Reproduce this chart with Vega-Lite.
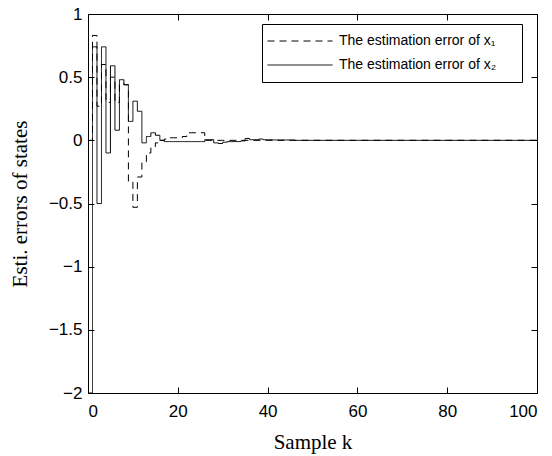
{
  "$schema": "https://vega.github.io/schema/vega-lite/v6.json",
  "width": 449,
  "height": 379,
  "autosize": {"type": "none"},
  "padding": {"left": 88, "top": 14, "right": 15, "bottom": 63},
  "background": "white",
  "config": {
    "view": {"stroke": "black", "strokeWidth": 1},
    "axis": {
      "grid": false,
      "domain": false,
      "ticks": true,
      "zindex": 1,
      "tickColor": "black",
      "tickWidth": 1,
      "tickSize": 6,
      "offset": -6,
      "labelFont": "Liberation Sans",
      "labelFontSize": 17,
      "labelColor": "black",
      "titleFont": "Liberation Serif",
      "titleFontSize": 21,
      "titleFontWeight": "normal",
      "titleColor": "black"
    }
  },
  "datasets": {
    "err": [
      {"k":0,"v":-2,"s":"The estimation error of x₂"},
      {"k":1,"v":0.74,"s":"The estimation error of x₂"},
      {"k":2,"v":-0.5,"s":"The estimation error of x₂"},
      {"k":3,"v":0.74,"s":"The estimation error of x₂"},
      {"k":4,"v":-0.1,"s":"The estimation error of x₂"},
      {"k":5,"v":0.59,"s":"The estimation error of x₂"},
      {"k":6,"v":0.08,"s":"The estimation error of x₂"},
      {"k":7,"v":0.48,"s":"The estimation error of x₂"},
      {"k":8,"v":0.44,"s":"The estimation error of x₂"},
      {"k":9,"v":0.15,"s":"The estimation error of x₂"},
      {"k":10,"v":0.31,"s":"The estimation error of x₂"},
      {"k":11,"v":0.23,"s":"The estimation error of x₂"},
      {"k":12,"v":-0.02,"s":"The estimation error of x₂"},
      {"k":13,"v":0.03,"s":"The estimation error of x₂"},
      {"k":14,"v":0.06,"s":"The estimation error of x₂"},
      {"k":15,"v":0.04,"s":"The estimation error of x₂"},
      {"k":16,"v":0.0,"s":"The estimation error of x₂"},
      {"k":17,"v":-0.01,"s":"The estimation error of x₂"},
      {"k":18,"v":-0.01,"s":"The estimation error of x₂"},
      {"k":19,"v":-0.01,"s":"The estimation error of x₂"},
      {"k":20,"v":-0.01,"s":"The estimation error of x₂"},
      {"k":21,"v":-0.01,"s":"The estimation error of x₂"},
      {"k":22,"v":-0.01,"s":"The estimation error of x₂"},
      {"k":23,"v":-0.01,"s":"The estimation error of x₂"},
      {"k":24,"v":-0.01,"s":"The estimation error of x₂"},
      {"k":25,"v":-0.01,"s":"The estimation error of x₂"},
      {"k":26,"v":0.005,"s":"The estimation error of x₂"},
      {"k":27,"v":0.005,"s":"The estimation error of x₂"},
      {"k":28,"v":-0.02,"s":"The estimation error of x₂"},
      {"k":29,"v":-0.025,"s":"The estimation error of x₂"},
      {"k":30,"v":-0.015,"s":"The estimation error of x₂"},
      {"k":31,"v":-0.01,"s":"The estimation error of x₂"},
      {"k":32,"v":-0.01,"s":"The estimation error of x₂"},
      {"k":33,"v":-0.01,"s":"The estimation error of x₂"},
      {"k":34,"v":-0.005,"s":"The estimation error of x₂"},
      {"k":35,"v":0.015,"s":"The estimation error of x₂"},
      {"k":36,"v":0.005,"s":"The estimation error of x₂"},
      {"k":37,"v":0.005,"s":"The estimation error of x₂"},
      {"k":38,"v":0.01,"s":"The estimation error of x₂"},
      {"k":39,"v":0.005,"s":"The estimation error of x₂"},
      {"k":40,"v":0.005,"s":"The estimation error of x₂"},
      {"k":41,"v":0.003,"s":"The estimation error of x₂"},
      {"k":42,"v":0.003,"s":"The estimation error of x₂"},
      {"k":43,"v":0.003,"s":"The estimation error of x₂"},
      {"k":44,"v":0.003,"s":"The estimation error of x₂"},
      {"k":45,"v":0.003,"s":"The estimation error of x₂"},
      {"k":46,"v":0,"s":"The estimation error of x₂"},
      {"k":50,"v":0,"s":"The estimation error of x₂"},
      {"k":60,"v":0,"s":"The estimation error of x₂"},
      {"k":70,"v":0,"s":"The estimation error of x₂"},
      {"k":80,"v":0,"s":"The estimation error of x₂"},
      {"k":90,"v":0,"s":"The estimation error of x₂"},
      {"k":100,"v":0,"s":"The estimation error of x₂"},
      {"k":0,"v":0,"s":"The estimation error of x₁"},
      {"k":1,"v":0.83,"s":"The estimation error of x₁"},
      {"k":2,"v":0.27,"s":"The estimation error of x₁"},
      {"k":3,"v":0.6,"s":"The estimation error of x₁"},
      {"k":4,"v":0.3,"s":"The estimation error of x₁"},
      {"k":5,"v":0.5,"s":"The estimation error of x₁"},
      {"k":6,"v":0.3,"s":"The estimation error of x₁"},
      {"k":7,"v":0.45,"s":"The estimation error of x₁"},
      {"k":8,"v":0.44,"s":"The estimation error of x₁"},
      {"k":9,"v":-0.33,"s":"The estimation error of x₁"},
      {"k":10,"v":-0.53,"s":"The estimation error of x₁"},
      {"k":11,"v":-0.29,"s":"The estimation error of x₁"},
      {"k":12,"v":-0.17,"s":"The estimation error of x₁"},
      {"k":13,"v":-0.1,"s":"The estimation error of x₁"},
      {"k":14,"v":-0.05,"s":"The estimation error of x₁"},
      {"k":15,"v":-0.02,"s":"The estimation error of x₁"},
      {"k":16,"v":0.0,"s":"The estimation error of x₁"},
      {"k":17,"v":0.01,"s":"The estimation error of x₁"},
      {"k":18,"v":0.02,"s":"The estimation error of x₁"},
      {"k":19,"v":0.02,"s":"The estimation error of x₁"},
      {"k":20,"v":0.02,"s":"The estimation error of x₁"},
      {"k":21,"v":0.03,"s":"The estimation error of x₁"},
      {"k":22,"v":0.06,"s":"The estimation error of x₁"},
      {"k":23,"v":0.06,"s":"The estimation error of x₁"},
      {"k":24,"v":0.06,"s":"The estimation error of x₁"},
      {"k":25,"v":0.06,"s":"The estimation error of x₁"},
      {"k":26,"v":0.0,"s":"The estimation error of x₁"},
      {"k":30,"v":0,"s":"The estimation error of x₁"},
      {"k":40,"v":0,"s":"The estimation error of x₁"},
      {"k":50,"v":0,"s":"The estimation error of x₁"},
      {"k":60,"v":0,"s":"The estimation error of x₁"},
      {"k":70,"v":0,"s":"The estimation error of x₁"},
      {"k":80,"v":0,"s":"The estimation error of x₁"},
      {"k":90,"v":0,"s":"The estimation error of x₁"},
      {"k":100,"v":0,"s":"The estimation error of x₁"}
    ]
  },
  "data": {"name": "err"},
  "resolve": {"axis": {"x": "independent", "y": "independent"}},
  "layer": [
    {
      "mark": {"type": "line", "interpolate": "step-after", "color": "black", "strokeWidth": 1, "clip": true},
      "encoding": {
        "x": {
          "field": "k", "type": "quantitative",
          "scale": {"domain": [0, 100], "nice": false, "zero": false},
          "axis": {"orient": "bottom", "values": [0, 20, 40, 60, 80, 100], "title": "Sample k", "labelPadding": 10, "titleY": 61, "titleBaseline": "alphabetic", "titleAnchor": "middle"}
        },
        "y": {
          "field": "v", "type": "quantitative",
          "scale": {"domain": [-2, 1], "nice": false, "zero": false},
          "axis": {"orient": "left", "values": [-2, -1.5, -1, -0.5, 0, 0.5, 1], "format": "~g", "title": "Esti. errors of states", "labelPadding": 6, "titleX": -68, "titleBaseline": "alphabetic", "titleAnchor": "middle"}
        },
        "strokeDash": {
          "field": "s", "type": "nominal",
          "scale": {"domain": ["The estimation error of x₁", "The estimation error of x₂"], "range": [[7, 5], [1, 0]]},
          "legend": {
            "title": "\u00a0",
            "titleOrient": "right",
            "titlePadding": 21,
            "titleFontSize": 14,
            "orient": "none",
            "legendX": 174,
            "legendY": 10,
            "direction": "vertical",
            "strokeColor": "black",
            "fillColor": "white",
            "padding": 5,
            "symbolType": "stroke",
            "symbolSize": 4225,
            "symbolStrokeWidth": 1,
            "symbolStrokeColor": "black",
            "labelFont": "Liberation Sans",
            "labelFontSize": 14,
            "labelColor": "black",
            "labelLimit": 400,
            "labelOffset": 6,
            "clipHeight": 24,
            "rowPadding": 0
          }
        }
      }
    },
    {
      "mark": {"type": "line", "opacity": 0, "interpolate": "step-after"},
      "encoding": {
        "x": {"field": "k", "type": "quantitative", "axis": {"orient": "top", "values": [0, 20, 40, 60, 80, 100], "labels": false, "title": null}},
        "y": {"field": "v", "type": "quantitative", "axis": {"orient": "right", "values": [-2, -1.5, -1, -0.5, 0, 0.5, 1], "labels": false, "title": null}}
      }
    }
  ]
}
